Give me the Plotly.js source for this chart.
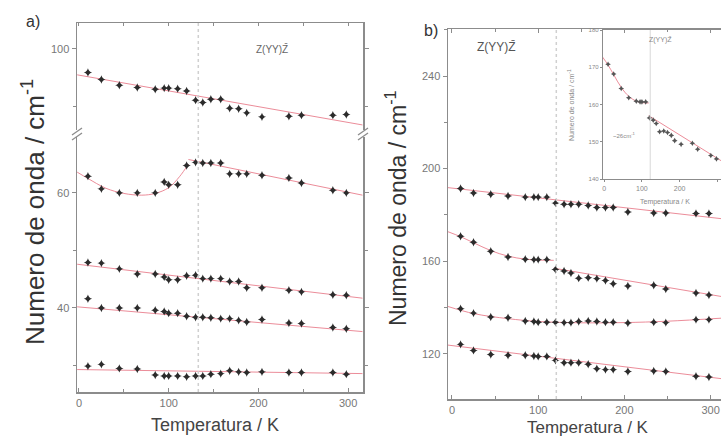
<!DOCTYPE html>
<html>
<head>
<meta charset="utf-8">
<script src="https://cdn.plot.ly/plotly-3.0.1.min.js"></script>
<style>html,body{margin:0;padding:0;background:#fff}#chart{width:721px;height:437px}</style>
</head>
<body>
<div id="chart"></div>
<script>
// ---------- data ----------
const temps = [10,25,45,65,85,95,100,110,120,130,138,147,158,168,178,187,204,234,248,283,298];

// panel a) Z(YY)Z̄
const aMode1 = [95.9,94.7,93.7,93.3,93.0,93.2,93.2,93.1,92.7,91.1,90.7,91.25,91.25,89.7,89.6,88.9,88.2,88.3,88.5,88.5,88.6];
const aMode2 = [62.9,60.7,60.0,60.0,60.0,61.9,61.4,61.4,64.75,65.3,65.2,65.2,65.2,63.3,63.3,63.3,63.05,62.6,61.7,60.45,60.0];
const aMode3 = [47.9,47.8,46.8,45.9,45.9,45.4,44.9,44.9,45.6,45.7,45.1,45.1,45.1,44.6,44.6,43.5,43.5,43.1,42.8,42.3,42.2];
const aMode4 = [41.6,40.0,40.0,40.0,39.6,39.4,39.1,39.1,38.55,38.4,38.4,38.3,38.15,38.15,37.85,37.55,38.0,37.4,37.3,36.6,36.4];
const aMode5 = [29.9,30.2,29.5,29.4,28.35,28.2,28.2,28.2,28.05,28.2,28.2,28.5,28.6,29.1,28.9,28.8,28.9,28.8,28.8,28.8,28.5];

// panel b) Z(YY)Z̄
const bMode1 = [191.4,189.5,188.9,188.2,187.7,187.7,187.7,187.7,185.1,184.6,184.6,184.6,184.1,183.2,183.2,183.2,181.3,180.8,180.8,180.6,180.6];
const bMode2 = [170.8,168.2,164.3,161.8,160.9,160.7,160.7,160.7,156.4,155.8,154.9,152.7,152.9,152.5,151.7,150.3,149.3,149.6,148.0,146.3,145.4];
const bMode3 = [139.5,137.6,135.9,135.6,134.2,134.0,133.7,133.7,133.7,133.5,133.5,134.0,134.2,134.0,133.7,133.7,133.3,133.7,133.5,134.8,134.8];
const bMode4 = [124.1,121.5,119.7,119.4,119.4,119.1,118.9,118.9,117.2,116.2,116.2,116.2,115.5,113.6,113.2,113.2,112.4,112.6,112.4,110.3,110.0];

// fitted curves (node points)
const fitA1T = [-2, 316],  fitA1 = [95.5, 86.8];
const fitA2lowT = [-2, 10, 30, 50, 70, 85, 100, 112, 122], fitA2low = [63.6, 62.5, 60.8, 59.9, 59.6, 59.9, 60.9, 62.8, 65.0];
const fitA2highT = [122, 316], fitA2high = [65.8, 59.6];
const fitA3T = [-2, 316], fitA3 = [47.6, 41.7];
const fitA4T = [-2, 316], fitA4 = [40.2, 35.9];
const fitA5T = [-2, 316], fitA5 = [29.3, 28.6];
const fitB1T = [-5, 312], fitB1 = [191.8, 178.4];
const fitB2lowT = [-5, 10, 25, 45, 65, 85, 100, 118], fitB2low = [172.8, 170.6, 168.0, 164.6, 162.2, 160.9, 160.5, 160.4];
const fitB2highT = [118, 312], fitB2high = [157.0, 144.8];
const fitB3T = [-5, 25, 65, 100, 150, 200, 250, 312], fitB3 = [140.5, 137.4, 135.2, 134.0, 133.4, 133.5, 134.1, 135.4];
const fitB4T = [-5, 312], fitB4 = [123.8, 109.3];

const vlineA = 133, vlineB = 121, vlineInset = 122;
const modeLabel = 'Z(YY)Z\u0304';
const yTitle = 'Numero de onda / cm<sup>-1</sup>';
const xTitle = 'Temperatura / K';

// ---------- styling ----------
const W = 721, H = 437;
const px = x => x / W, py = y => 1 - y / H;
const F = 'Liberation Sans, Arial, sans-serif';
const AX = '#8c8c8c';
const markerStyle = {symbol: 'star-diamond', size: 6, color: '#2b2b2b'};
const fitStyle = {color: 'rgba(232,120,135,0.85)', width: 1};

function pts(x, y, xa, ya, m) {
  return {x: x, y: y, xaxis: xa, yaxis: ya, type: 'scatter', mode: 'markers', marker: m || markerStyle, hoverinfo: 'skip'};
}
function fit(x, y, xa, ya) {
  return {x: x, y: y, xaxis: xa, yaxis: ya, type: 'scatter', mode: 'lines', line: Object.assign({shape: 'spline'}, fitStyle), hoverinfo: 'skip'};
}

const traces = [
  fit(fitA1T, fitA1, 'x2', 'y2'),
  fit(fitA2lowT, fitA2low, 'x', 'y'),
  fit(fitA2highT, fitA2high, 'x', 'y'),
  fit(fitA3T, fitA3, 'x', 'y'),
  fit(fitA4T, fitA4, 'x', 'y'),
  fit(fitA5T, fitA5, 'x', 'y'),
  fit(fitB1T, fitB1, 'x3', 'y3'),
  fit(fitB2lowT, fitB2low, 'x3', 'y3'),
  fit(fitB2highT, fitB2high, 'x3', 'y3'),
  fit(fitB3T, fitB3, 'x3', 'y3'),
  fit(fitB4T, fitB4, 'x3', 'y3'),
  fit(fitB2lowT, fitB2low, 'x4', 'y4'),
  fit(fitB2highT, fitB2high, 'x4', 'y4'),
  pts(temps, aMode1, 'x2', 'y2'),
  pts(temps, aMode2, 'x', 'y'),
  pts(temps, aMode3, 'x', 'y'),
  pts(temps, aMode4, 'x', 'y'),
  pts(temps, aMode5, 'x', 'y'),
  pts(temps, bMode1, 'x3', 'y3'),
  pts(temps, bMode2, 'x3', 'y3'),
  pts(temps, bMode3, 'x3', 'y3'),
  pts(temps, bMode4, 'x3', 'y3'),
  pts(temps, bMode2, 'x4', 'y4', {symbol: 'star-diamond', size: 4, color: '#555'})
];

const base = {showline: true, linecolor: AX, linewidth: 1.5, zeroline: false, showgrid: false,
  tickfont: {family: F, size: 11, color: '#777777'}, tickcolor: AX, ticklen: 4, tickwidth: 1};

function ann(text, x, y, size, color, angle) {
  const a = {text: text, x: px(x), y: py(y), xref: 'paper', yref: 'paper', xanchor: 'center', yanchor: 'middle',
    showarrow: false, font: {family: F, size: size, color: color}};
  if (angle) a.textangle = angle;
  return a;
}

const layout = {
  width: W, height: H, margin: {l: 0, r: 0, t: 0, b: 0},
  paper_bgcolor: '#fff', plot_bgcolor: 'rgba(0,0,0,0)', showlegend: false,
  font: {family: F},
  xaxis: Object.assign({}, base, {domain: [px(77), px(363)], range: [-2.2, 316.6], anchor: 'y',
    tick0: 0, dtick: 100, ticks: 'inside', ticklen: 4, minor: {dtick: 50, ticks: 'inside', ticklen: 3, tickcolor: AX}}),
  xaxis2: Object.assign({}, base, {domain: [px(77), px(363)], range: [-2.2, 316.6], anchor: 'y2', side: 'top',
    showticklabels: false, tick0: 0, dtick: 50, ticks: 'inside', ticklen: 3}),
  yaxis: Object.assign({}, base, {domain: [py(392), py(133)], range: [25.4, 70.4], anchor: 'x',
    tick0: 0, dtick: 20, ticks: 'outside', mirror: 'allticks', minor: {dtick: 10, ticks: 'outside', ticklen: 3, tickcolor: AX}}),
  yaxis2: Object.assign({}, base, {domain: [py(133), py(23)], range: [85.4, 104.5], anchor: 'x2',
    tick0: 0, dtick: 20, ticks: 'outside', mirror: 'allticks', minor: {dtick: 10, ticks: 'outside', ticklen: 3, tickcolor: AX}}),
  xaxis3: Object.assign({}, base, {domain: [px(448), 1], range: [-4.6, 312], anchor: 'y3',
    tick0: 0, dtick: 100, ticks: 'inside', ticklen: 4, mirror: 'ticks', minor: {dtick: 50, ticks: 'inside', ticklen: 3, tickcolor: AX}}),
  yaxis3: Object.assign({}, base, {domain: [py(399), py(29)], range: [100.5, 260.3], anchor: 'x3',
    tick0: 0, dtick: 40, ticks: 'outside', minor: {dtick: 20, ticks: 'outside', ticklen: 3, tickcolor: AX}}),
  xaxis4: Object.assign({}, base, {domain: [px(603), 1], range: [-3.4, 310], anchor: 'y4', linewidth: 1.2,
    tick0: 0, dtick: 100, ticks: 'outside', ticklen: 2, mirror: true, tickfont: {family: F, size: 7, color: '#888'}}),
  yaxis4: Object.assign({}, base, {domain: [py(179), py(30)], range: [140, 180], anchor: 'x4', linewidth: 1.2,
    tick0: 0, dtick: 10, ticks: 'outside', ticklen: 2, tickfont: {family: F, size: 6, color: '#888'}}),
  shapes: [
    {type: 'line', xref: 'x', yref: 'paper', x0: vlineA, x1: vlineA, y0: py(392), y1: py(23), line: {color: '#d0d0d0', width: 1.5, dash: 'dot'}},
    {type: 'line', xref: 'x3', yref: 'paper', x0: vlineB, x1: vlineB, y0: py(399), y1: py(29), line: {color: '#d0d0d0', width: 1.5, dash: 'dot'}},
    {type: 'line', xref: 'x4', yref: 'paper', x0: vlineInset, x1: vlineInset, y0: py(179), y1: py(30), line: {color: '#d8d8d8', width: 1}},
    // axis break marks
    {type: 'rect', xref: 'paper', yref: 'paper', x0: px(70), x1: px(84), y0: py(137), y1: py(130), fillcolor: '#fff', line: {width: 0}},
    {type: 'line', xref: 'paper', yref: 'paper', x0: px(72), x1: px(82), y0: py(135), y1: py(128), line: {color: AX, width: 1.3}},
    {type: 'line', xref: 'paper', yref: 'paper', x0: px(72), x1: px(82), y0: py(140), y1: py(133), line: {color: AX, width: 1.3}},
    {type: 'rect', xref: 'paper', yref: 'paper', x0: px(356), x1: px(370), y0: py(137), y1: py(130), fillcolor: '#fff', line: {width: 0}},
    {type: 'line', xref: 'paper', yref: 'paper', x0: px(358), x1: px(368), y0: py(135), y1: py(128), line: {color: AX, width: 1.3}},
    {type: 'line', xref: 'paper', yref: 'paper', x0: px(358), x1: px(368), y0: py(140), y1: py(133), line: {color: AX, width: 1.3}}
  ],
  annotations: [
    ann('a)', 33, 22, 16, '#333'),
    ann('b)', 431, 31, 16, '#333'),
    ann(modeLabel, 272, 49, 10, '#666'),
    ann(modeLabel, 496, 47, 12, '#555'),
    ann(modeLabel, 660, 40, 7, '#888'),
    ann('~26cm<sup>-1</sup>', 624, 135, 6, '#888'),
    ann(yTitle, 33, 212, 26, '#333', -90),
    ann(yTitle, 396, 208, 23, '#333', -90),
    ann(yTitle, 571, 105, 7, '#888', -90),
    ann(xTitle, 215, 425, 18, '#444'),
    ann(xTitle, 588, 427, 17, '#444'),
    ann(xTitle, 665, 202, 7, '#888')
  ]
};

Plotly.newPlot('chart', traces, layout, {displayModeBar: false, staticPlot: true});
</script>
</body>
</html>
